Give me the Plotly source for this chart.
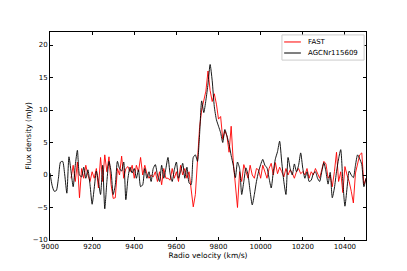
import plotly.graph_objects as go

black_start, black_step = 9000, 10
agc_flux = [
    0.3, -1.6, -2.5, -2.4, -0.5, 2.0, 2.1, 0.0, -2.8, 2.8,
    0.5, -1.8, 1.5, 3.8, 0.0, -0.3, 1.2, -0.5, 0.8, -1.5,
    -4.5, -2.0, 0.6, -1.0, -3.0, 1.5, -5.2, -1.0, 2.1, 0.5,
    -3.0, -1.5, 2.1, 1.0, 0.6, 2.0, -3.8, -0.5, 1.2, 0.3,
    1.0, -0.5, 0.8, -1.8, -1.5, 1.0, -0.5, 0.5, -1.0, 1.0,
    1.6, 0.0, -1.0, 1.5, -0.5, 1.0, 2.7, 0.2, -1.0, 0.8,
    2.0, -0.5, 0.5, 1.8, -0.5, 1.2, -1.2, -1.5, 2.7, 3.1,
    2.1, 6.2, 11.4, 9.6, 11.5, 14.0, 17.0, 14.5, 10.5, 8.5,
    7.5, 6.5, 5.0, 7.0, 6.0, 4.7, 3.0, 1.5, -0.4, 2.0,
    1.0, -3.0, -1.0, 1.1, 0.0, -2.5, -4.6, -3.0, -1.0, 0.5,
    1.6, 2.4, 1.5, 1.1, -0.5, -2.0, 0.5, 2.5, 3.6, 5.2,
    2.0, -1.0, -3.0, 2.7, 1.0, 0.0, 1.7, 0.5, 1.5, 3.4,
    1.0, -0.5, 0.5, -1.0, -0.8, 0.2, 0.5, -0.5, -1.0, 0.5,
    1.9, 0.5, -1.4, 0.4, -3.5, -2.0, 0.5, 2.5, 3.9, -1.0,
    -4.8, -2.0, 0.6, 0.0, -0.4, 1.5, 3.1, 2.5, 1.6, -1.8,
    -0.5,
]
agc_vel = [black_start + black_step * i for i in range(len(agc_flux))]

red_start, red_step = 9100, 10
fast_flux = [
    -0.5, 1.5, -1.0, 2.0, -3.5, 1.0, -0.5, 1.5, 0.0, -1.0,
    0.5, -0.5, 1.0, -2.0, 2.7, -1.0, 3.1, 0.5, 2.8, -1.5,
    -3.6, -3.5, 1.0, 0.0, 2.9, -0.5, 1.0, 1.3, 0.5, 1.5,
    -0.5, 1.5, 0.5, 2.7, 0.0, 1.5, 0.2, -0.5, 0.0, -0.3,
    0.5, -1.0, 0.5, -1.5, 1.0, -0.5, -0.5, -0.8, 1.0, -0.5,
    0.5, -1.0, 1.5, 0.0, 1.0, -0.5, 0.5, -2.0, -4.9, -3.0,
    3.0, 7.3, 10.0, 11.4, 12.9, 16.0, 13.0, 11.3, 12.5, 10.9,
    8.6, 9.0, 5.5, 6.8, 6.0, 3.5, 7.5, 2.0, -2.0, -5.0,
    0.5, -1.0, 1.6, 0.5, -0.5, 1.5, 0.0, -0.5, 1.0, 0.8,
    -0.5, 1.5, 0.5, -0.5, 1.0, 1.8, 0.0, 1.9, 0.2, 1.2,
    0.5, -0.3, 1.0, 0.0, 0.8, 0.3, -0.5, 0.5, 1.0, 0.2,
    0.5, 0.0, 1.0, -0.5, 0.5, 0.0, 1.0, 0.3, -0.5, 0.8,
    2.1, 1.7, -0.5, 0.0, -1.8, 0.5, 3.5, -1.0, 0.5, -2.7,
    1.3, 0.0, -1.0, -2.5, -4.3, 0.3, 1.5, 3.1, 3.4, -1.5,
    -0.5,
]
fast_vel = [red_start + red_step * i for i in range(len(fast_flux))]

series_names = ["FAST", "AGCNr115609"]
series_colors = ["#ff0000", "#000000"]

x_ticks = [9000, 9200, 9400, 9600, 9800, 10000, 10200, 10400]
y_ticks = [-10, -5, 0, 5, 10, 15, 20]
y_tick_text = ["\u221210", "\u22125", "0", "5", "10", "15", "20"]

fig = go.Figure()
fig.add_trace(go.Scatter(x=fast_vel, y=fast_flux, mode="lines", name=series_names[0],
                         line=dict(color=series_colors[0], width=0.9)))
fig.add_trace(go.Scatter(x=agc_vel, y=agc_flux, mode="lines", name=series_names[1],
                         line=dict(color=series_colors[1], width=0.9, shape="spline", smoothing=0.6)))

axis_common = dict(showline=True, linecolor="#000000", linewidth=1, mirror="ticks",
                   ticks="inside", ticklen=3, tickcolor="#000000", showgrid=False,
                   zeroline=False, automargin=False,
                   tickfont=dict(size=7, color="#000000"))
fig.update_xaxes(range=[9000, 10500], tickvals=x_ticks, ticktext=[str(v) for v in x_ticks],
                 title=dict(text="Radio velocity (km/s)", font=dict(size=7.5, color="#000000"), standoff=1),
                 **axis_common)
fig.update_yaxes(range=[-10, 22], tickvals=y_ticks, ticktext=y_tick_text,
                 title=dict(text="Flux density (mJy)", font=dict(size=7.5, color="#000000"), standoff=0),
                 **axis_common)

# custom compact legend (matplotlib style)
fig.add_shape(type="rect", xref="paper", yref="paper", x0=0.734, x1=0.994, y0=0.865, y1=0.986,
              line=dict(color="#cccccc", width=1), fillcolor="white", layer="above")
leg_y = [0.952, 0.899]
for name, color, ly in zip(series_names, series_colors, leg_y):
    fig.add_shape(type="line", xref="paper", yref="paper", x0=0.741, x1=0.794, y0=ly, y1=ly,
                  line=dict(color=color, width=1), layer="above")
    fig.add_annotation(xref="paper", yref="paper", x=0.81, y=ly, text=name, showarrow=False,
                       xanchor="left", yanchor="middle", font=dict(size=7, color="#000000"))

fig.update_layout(
    width=399, height=263,
    margin=dict(l=42, r=41, t=24, b=31),
    paper_bgcolor="white", plot_bgcolor="white",
    font=dict(family="DejaVu Sans", size=7, color="#000000"),
    showlegend=False,
)
fig.write_html("out.html")
